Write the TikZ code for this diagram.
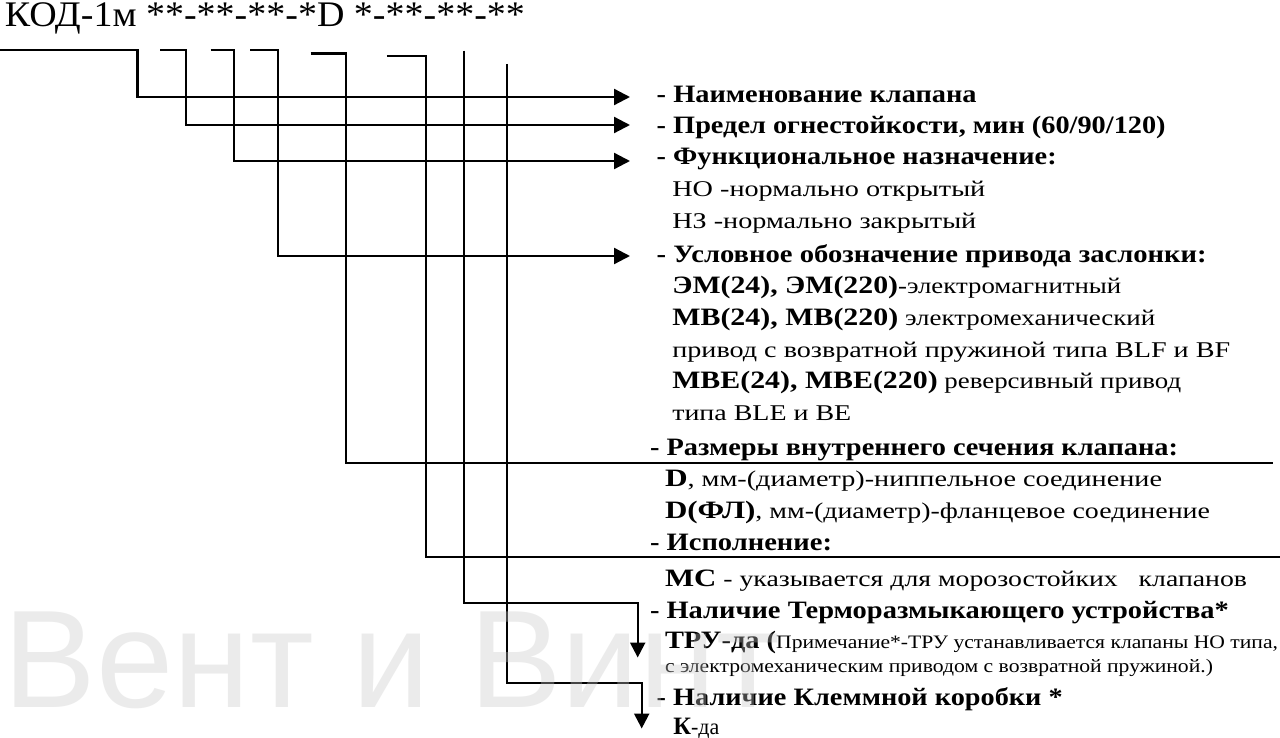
\documentclass[tikz,border=0pt]{standalone}
\usepackage{fontspec}
\usepackage{graphicx}
\setmainfont{Liberation Serif}
\newfontfamily\wmfont{Liberation Sans}
\usetikzlibrary{arrows.meta}
\newsavebox\fitbox
\newcommand\fitto[2]{\sbox\fitbox{#2}\pgfmathsetmacro\fitr{#1/\the\wd\fitbox}\scalebox{\fitr}[1]{\usebox\fitbox}}
\newcommand\rg{\fontsize{22.5}{26}\selectfont\mdseries}
\newcommand\bd{\fontsize{25}{28}\selectfont\bfseries}
\newcommand\sm{\fontsize{19}{22}\selectfont\mdseries}
\begin{document}
\begin{tikzpicture}[x=1pt,y=-1pt,
  conn/.style={line width=2.3pt,line join=miter},
  harrow/.style={conn,-{Triangle[length=16pt,width=16pt]}},
  varrow/.style={conn,-{Triangle[length=15pt,width=15pt]}},
  txt/.style={anchor=base west,inner sep=0pt,outer sep=0pt,text=black}]
\useasboundingbox (0,0) rectangle (1280,738);
\fill[white] (0,0) rectangle (1280,738);

% header
\node[txt] (hdr) at (5,26.5) {\fitto{520}{\fontsize{36}{40}\selectfont КОД-1м **-**-**-*D *-**-**-**}};

% texts
\node[txt] (t1) at (656.7,102.7) {\fitto{320}{\bd - Наименование клапана}};
\node[txt] (t2) at (656.7,133.3) {\fitto{509}{\bd - Предел огнестойкости, мин (60/90/120)}};
\node[txt] (t3) at (656.7,165) {\fitto{400}{\bd - Функциональное назначение:}};
\node[txt] (t4) at (672.3,197) {\fitto{313}{\rg НО -нормально открытый}};
\node[txt] (t5) at (672.3,228.5) {\fitto{304}{\rg НЗ -нормально закрытый}};
\node[txt] (t6) at (656.7,262.7) {\fitto{550}{\bd - Условное обозначение привода заслонки:}};
\node[txt] (t7) at (672.3,293.5) {\fitto{449}{{\bd ЭМ(24), ЭМ(220)}{\rg -электромагнитный}}};
\node[txt] (t8) at (672.3,325) {\fitto{483}{{\bd МВ(24), МВ(220)}{\rg{} электромеханический}}};
\node[txt] (t9) at (672.3,357) {\fitto{558}{\rg привод с возвратной пружиной типа BLF и BF}};
\node[txt] (t10) at (672.3,388.5) {\fitto{509}{{\bd МВЕ(24), МВЕ(220)}{\rg{} реверсивный привод}}};
\node[txt] (t11) at (672.3,420.5) {\fitto{179}{\rg типа BLE и BE}};
\node[txt] (t12) at (650,455) {\fitto{528}{\bd - Размеры внутреннего сечения клапана:}};
\node[txt] (t13) at (665,486) {\fitto{497}{{\bd D}{\rg, мм-(диаметр)-ниппельное соединение}}};
\node[txt] (t14) at (665,518) {\fitto{545}{{\bd D(ФЛ)}{\rg, мм-(диаметр)-фланцевое соединение}}};
\node[txt] (t15) at (650,550) {\fitto{182}{\bd - Исполнение:}};
\node[txt] (t16) at (665,586) {\fitto{582}{{\bd МС}{\rg{} - указывается для морозостойких\hspace{0.5em} клапанов}}};
\node[txt] (t17) at (650,618) {\fitto{579}{\bd - Наличие Терморазмыкающего устройства*}};
\node[txt] (t18) at (665,648) {\fitto{613}{{\bd ТРУ-да (}{\sm Примечание*-ТРУ устанавливается клапаны НО типа,}}};
\node[txt] (t19) at (665,672.7) {\fitto{548}{\sm с электромеханическим приводом с возвратной пружиной.)}};
\node[txt] (t20) at (656.7,705) {\fitto{406}{\bd - Наличие Клеммной коробки *}};
\node[txt] (t21) at (673.3,734) {\fitto{46}{{\bd К}{\rg -да}}};

% connector coordinates
\coordinate (s1) at (0,50);     \coordinate (c1a) at (137.5,50);  \coordinate (c1b) at (137.5,97);  \coordinate (e1) at (630,97);
\coordinate (s2) at (160,50);   \coordinate (c2a) at (185.7,50);  \coordinate (c2b) at (185.7,125); \coordinate (e2) at (630,125);
\coordinate (s3) at (210.7,50); \coordinate (c3a) at (233.9,50);  \coordinate (c3b) at (233.9,161); \coordinate (e3) at (630,161);
\coordinate (s4) at (250,50);   \coordinate (c4a) at (277.9,50);  \coordinate (c4b) at (277.9,256); \coordinate (e4) at (630,256);
\coordinate (s5) at (310.7,53.5); \coordinate (c5a) at (345.7,53.5); \coordinate (c5b) at (345.7,463.3); \coordinate (e5) at (1273,463.3);
\coordinate (s6) at (386.8,56); \coordinate (c6a) at (425.7,56);  \coordinate (c6b) at (425.7,556.7); \coordinate (e6) at (1280,556.7);
\coordinate (s7) at (464.3,50.7); \coordinate (c7a) at (464.3,602.7); \coordinate (c7b) at (637.7,602.7); \coordinate (e7) at (637.7,657.5);
\coordinate (s8) at (507,64);   \coordinate (c8a) at (507,682.7); \coordinate (c8b) at (641.7,682.7); \coordinate (e8) at (641.7,728.5);

\draw[harrow] (s1) -- (c1a) -- (c1b) -- (e1);
\draw[harrow] (s2) -- (c2a) -- (c2b) -- (e2);
\draw[harrow] (s3) -- (c3a) -- (c3b) -- (e3);
\draw[harrow] (s4) -- (c4a) -- (c4b) -- (e4);
\draw[conn] (s5) -- (c5a) -- (c5b) -- (e5);
\draw[conn] (s6) -- (c6a) -- (c6b) -- (e6);
\draw[varrow] (s7) -- (c7a) -- (c7b) -- (e7);
\draw[varrow] (s8) -- (c8a) -- (c8b) -- (e8);

% watermark
\node[txt,text=black!22,opacity=0.35] (wm) at (4,707) {\wmfont\fontsize{139}{150}\selectfont Вент и Винт};
\end{tikzpicture}
\end{document}
